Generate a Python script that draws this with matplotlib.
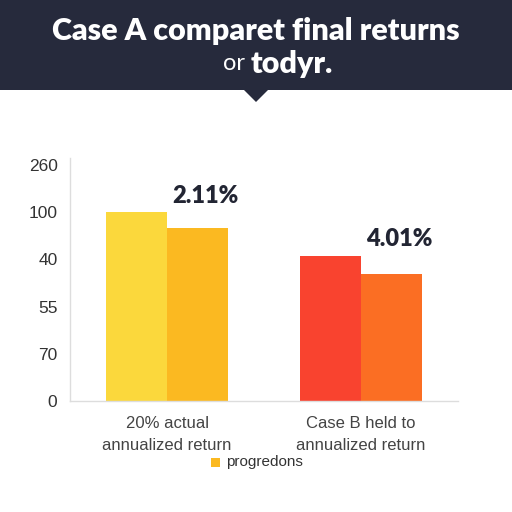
import numpy as np
import matplotlib.pyplot as plt
from matplotlib.patches import Rectangle, Polygon

# chart data (values in tick-step units, tick labels as shown)
groups = ['20% actual\nannualized return', 'Case B held to\nannualized return']
first_vals = [4.0, 3.07]
second_vals = [3.67, 2.69]
first_colors = ['#FBD83C', '#F9432F']
second_colors = ['#FBB921', '#FB6E23']
value_labels = ['2.11%', '4.01%']
tick_pos = [0, 1, 2, 3, 4, 5]
tick_labels = ['0', '70', '55', '40', '100', '260']
legend_label = 'progredons'

plt.rcParams['font.family'] = ['Liberation Sans', 'DejaVu Sans']
bold_font = ['Lato', 'DejaVu Sans']

fig = plt.figure(figsize=(5.12, 5.12), dpi=100)
fig.patch.set_facecolor('white')

# header band with pointer
fig.patches.append(Rectangle((0, 1 - 90/512), 1, 90/512, transform=fig.transFigure,
                             facecolor='#262a3c', edgecolor='none'))
fig.patches.append(Polygon([(244/512, 1 - 90/512), (268/512, 1 - 90/512), (256/512, 1 - 102/512)],
                           closed=True, transform=fig.transFigure,
                           facecolor='#262a3c', edgecolor='none'))
fig.text(0.5, 1 - 31/512, 'Case A comparet final returns', color='white', fontsize=22,
         fontweight='heavy', family=bold_font, ha='center', va='center')
fig.text(0.5 - 5/512, 1 - 64/512, 'or ', color='white', fontsize=17, family=bold_font,
         ha='right', va='center')
fig.text(0.5 - 5/512, 1 - 64/512, 'todyr.', color='white', fontsize=22, fontweight='heavy',
         family=bold_font, ha='left', va='center')

ax = fig.add_axes([70/512, 111/512, 388/512, 0.475])
x = np.arange(len(groups))
w = 0.315
ax.bar(x - w/2, first_vals, w, color=first_colors)
ax.bar(x + w/2, second_vals, w, color=second_colors)

for i, lab in enumerate(value_labels):
    ax.text(x[i] + w/2 + 0.04, first_vals[i] + 0.35, lab, ha='center', va='center',
            fontsize=17, fontweight='heavy', family=bold_font, color='#222533')

ax.set_xlim(-0.5, 1.5)
ax.set_ylim(0, 5.15)
ax.set_yticks(tick_pos)
ax.set_yticklabels(tick_labels)
ax.set_xticks(x)
ax.set_xticklabels(groups, linespacing=1.6)
ax.tick_params(axis='y', length=0, pad=9, labelsize=12.5, labelcolor='#333333')
ax.tick_params(axis='x', length=0, pad=11, labelsize=12, labelcolor='#444444')
for s in ['top', 'right']:
    ax.spines[s].set_visible(False)
for s in ['left', 'bottom']:
    ax.spines[s].set_color('#dddddd')
    ax.spines[s].set_linewidth(1)

# legend
fig.patches.append(Rectangle((211/512, 1 - 467/512), 9/512, 9/512, transform=fig.transFigure,
                             facecolor='#FBB921', edgecolor='none'))
fig.text(226/512, 1 - 462/512, legend_label, fontsize=11, color='#333333', va='center')

fig.savefig('out.png', dpi=100)
